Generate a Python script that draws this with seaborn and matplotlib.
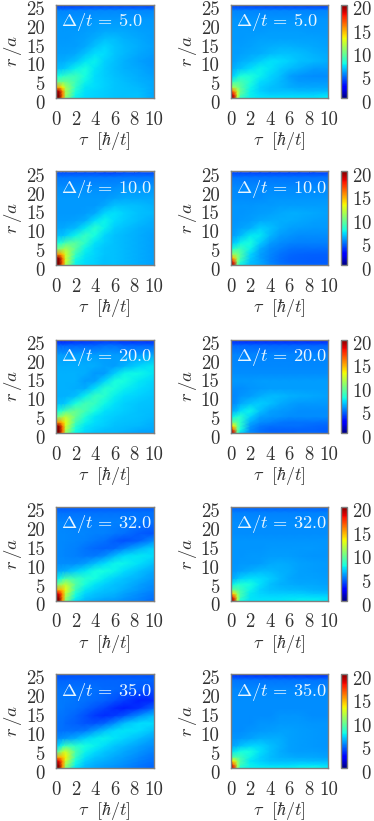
import matplotlib
matplotlib.use("Agg")
import matplotlib.pyplot as plt
from matplotlib.transforms import ScaledTranslation
import numpy as np
import pandas as pd
import seaborn as sns

tau_nodes = [0, .3, .7, 1, 2, 3, 4, 5, 6, 7, 8.5, 10]
r_nodes = [0, 1, 2, 3, 4.5, 6, 8, 10, 12, 14, 16, 18, 21, 23.5, 24.7]
x_ticks = [0, 2, 4, 6, 8, 10]
y_ticks = [0, 5, 10, 15, 20, 25]
cbar_ticks = [0, 5, 10, 15, 20]
deltas = ["5.0", "10.0", "20.0", "32.0", "35.0"]

z5_left = [
 [20,20,15,10,7.2,6.8,6.6,6.5,6.4,6.3,6.3,5.8],
 [20,20,15.5,11,7.4,6.8,6.7,6.5,6.4,6.3,6.3,5.8],
 [19.5,19,15,11,7.8,6.9,6.7,6.5,6.4,6.3,6.2,5.8],
 [14.5,14.5,13,11,8.2,7,6.8,6.6,6.4,6.3,6.1,5.8],
 [9,9.5,9.5,9.5,8.5,7.3,6.8,6.6,6.4,6.2,6,5.8],
 [7.5,7.5,8,8.2,8.5,7.5,6.8,6.5,6.3,6.1,5.9,5.7],
 [6.3,6.3,6.4,6.5,7.2,7.6,7,6.5,6.2,6,5.8,5.5],
 [5.9,5.9,5.9,6,6.3,7,7.2,6.6,6.3,6,5.7,5.4],
 [5.7,5.7,5.7,5.7,5.8,6.3,6.8,6.8,6.4,6.1,5.8,5.6],
 [5.6,5.6,5.6,5.6,5.6,5.8,6.3,6.7,6.4,6.1,5.9,5.7],
 [5.5,5.5,5.5,5.5,5.6,5.7,5.9,6.2,6.2,6,5.8,5.6],
 [5.5,5.5,5.5,5.5,5.5,5.6,5.7,5.8,5.8,5.8,5.7,5.6],
 [5.4,5.4,5.4,5.4,5.4,5.4,5.5,5.5,5.5,5.5,5.5,5.5],
 [5.1,5.1,5.1,5.1,5.1,5.1,5.2,5.2,5.2,5.2,5.2,5.2],
 [3.6,3.6,3.6,3.6,3.6,3.8,3.8,3.8,3.8,3.8,3.8,3.8],
]
z5_right = [
 [20,19,11,8,7.2,7,7,7,7,7,7,7.2],
 [20,18,12,9,7.2,6.8,6.6,6.6,6.6,6.6,6.6,6.8],
 [17,15,11.5,9.5,7.2,6.6,6.3,6.3,6.3,6.1,6.1,6.1],
 [11,11,10,9.2,7.4,6.6,6.3,6.1,5.9,5.8,5.8,5.8],
 [8,8.2,8.7,8.7,7.8,6.8,6.5,6.1,5.8,5.5,5.5,5.5],
 [6.5,6.7,7.2,7.7,7.7,7.2,6.7,6.3,5.7,5.4,5.3,5.3],
 [5.9,6,6.2,6.3,6.8,7.2,7,6.5,6.2,6,5.6,5.6],
 [5.7,5.7,5.8,5.9,6.1,6.5,6.9,6.8,6.6,6.3,6.1,5.9],
 [5.6,5.6,5.6,5.7,5.8,5.9,6.1,6.3,6.3,6.2,6,5.8],
 [5.6,5.6,5.6,5.6,5.7,5.8,5.9,6,6,5.9,5.8,5.7],
 [5.5,5.5,5.5,5.5,5.6,5.7,5.7,5.7,5.7,5.7,5.7,5.6],
 [5.5,5.5,5.5,5.5,5.5,5.5,5.6,5.6,5.6,5.6,5.5,5.5],
 [5.4,5.4,5.4,5.4,5.4,5.4,5.4,5.4,5.4,5.4,5.4,5.4],
 [5.1,5.1,5.1,5.1,5.1,5.1,5.1,5.1,5.1,5.1,5.1,5.1],
 [3.7,3.7,3.7,3.7,3.7,3.7,3.7,3.7,3.7,3.7,3.7,3.7],
]
z10_left = [
 [20,20,15.5,11,7.3,6.8,6.6,6.3,6.3,6.1,5.9,5.7],
 [20,20,16,12,7.3,6.8,6.6,6.3,6.3,6.1,5.9,5.7],
 [19.5,19.5,15.5,12,7.8,6.9,6.6,6.3,6.3,6.1,5.9,5.7],
 [15,15,14,12,8.3,7.1,6.7,6.4,6.3,6.1,5.9,5.7],
 [9.5,10,10.5,11,9.2,7.3,6.7,6.4,6.3,6.1,5.9,5.7],
 [7.5,7.5,8.2,8.8,9.2,8.1,6.9,6.5,6.3,6.1,5.9,5.7],
 [6.3,6.3,6.3,6.5,7.3,8.3,7.5,6.7,6.3,6.1,5.9,5.7],
 [5.8,5.8,5.8,5.9,6.1,7.1,8,7.2,6.5,6.3,6,5.8],
 [5.6,5.6,5.6,5.6,5.7,5.9,6.8,7.3,6.8,6.5,6.2,5.9],
 [5.5,5.5,5.5,5.5,5.5,5.6,5.8,6.7,6.9,6.6,6.3,6.1],
 [5.5,5.5,5.5,5.5,5.5,5.5,5.5,5.8,6.3,6.3,6.2,6],
 [5.5,5.5,5.5,5.5,5.5,5.5,5.5,5.5,5.7,5.8,5.8,5.8],
 [5.3,5.3,5.3,5.3,5.3,5.3,5.3,5.3,5.3,5.4,5.4,5.4],
 [4.9,4.9,4.9,4.9,4.9,4.9,4.9,4.9,4.9,4.9,4.9,4.9],
 [4,4,4,4,4,4,4,3.8,3.8,4,4,4],
]
z10_right = [
 [20,19,9.5,7.2,6.3,5.8,5.3,4.9,4.7,4.6,4.5,4.5],
 [20,17,10,8,6.3,5.8,5.1,4.7,4.5,4.4,4.3,4.3],
 [16,14,10.5,8.8,6.5,5.7,5.1,4.7,4.5,4.4,4.3,4.3],
 [10.5,10.5,10,9,6.7,5.7,5.2,4.8,4.6,4.5,4.4,4.4],
 [7.6,7.8,8.3,8.5,7.3,5.9,5.3,5,4.8,4.7,4.7,4.7],
 [6.3,6.5,6.8,7.3,7.6,6.5,5.6,5.3,5.1,5,5,5],
 [5.7,5.7,5.9,6.1,7.1,7.1,6.1,5.6,5.4,5.3,5.3,5.3],
 [5.5,5.5,5.6,5.7,5.9,6.5,6.3,5.9,5.7,5.6,5.5,5.5],
 [5.4,5.4,5.4,5.5,5.6,5.8,5.9,5.9,5.9,5.8,5.7,5.6],
 [5.4,5.4,5.4,5.4,5.5,5.6,5.7,5.8,5.9,5.9,5.8,5.7],
 [5.4,5.4,5.4,5.4,5.4,5.5,5.5,5.6,5.6,5.6,5.6,5.6],
 [5.3,5.3,5.3,5.3,5.3,5.3,5.4,5.4,5.4,5.4,5.4,5.4],
 [5.2,5.2,5.2,5.2,5.2,5.2,5.2,5.2,5.2,5.2,5.2,5.2],
 [4.8,4.8,4.8,4.8,4.8,4.8,4.8,4.8,4.8,4.8,4.8,4.8],
 [3.9,3.9,3.9,3.9,3.9,3.9,3.9,3.9,3.9,3.9,3.9,3.9],
]
z20_left = [
 [20,20,15.5,10.5,7.3,6.6,6.3,6.2,6.1,5.9,5.7,5.6],
 [20,20,16,11.5,7.5,6.8,6.5,6.3,6.2,6.1,5.9,5.8],
 [19.5,19.5,15.5,12,8,7,6.7,6.5,6.3,6.2,6.1,5.9],
 [15,15,14,12.5,8.7,7.3,6.8,6.6,6.4,6.3,6.2,6],
 [9.5,10,11,11.5,9.5,7.8,7,6.7,6.5,6.4,6.3,6.1],
 [7.3,7.5,8.2,8.8,9.5,8.6,7.5,6.9,6.7,6.5,6.3,6.2],
 [6.2,6.3,6.3,6.5,7.6,8.6,8.3,7.4,6.9,6.6,6.4,6.3],
 [6,6,6,6,6.2,7.2,8.3,8,7.2,6.8,6.6,6.4],
 [6,6,6,6,5.9,5.9,6.9,7.9,7.7,7.2,6.8,6.5],
 [6,6,6,6,6,5.6,5.7,6.7,7.6,7.6,7.1,6.7],
 [6,6,6,6,6,5.9,5.5,5.6,6.5,7.3,7.4,7],
 [5.9,5.9,5.9,5.9,5.9,5.9,5.9,5.7,5.6,6,6.7,7.1],
 [5.6,5.6,5.6,5.6,5.6,5.6,5.6,5.6,5.6,5.5,5.5,5.8],
 [4.5,4.5,4.5,4.5,4.5,4.5,4.5,4.7,4.7,4.5,4.5,4.5],
 [3,3,3,3,3.3,3.3,3.5,3.5,3.5,3.3,3.3,3.3],
]
z20_right = [
 [20,19,9,6.5,5.3,4.8,4.6,4.5,4.5,4.6,4.6,4.3],
 [20,16,9.5,7.5,5.3,4.7,4.5,4.5,4.5,4.5,4.5,4.3],
 [15,13,9.5,8,5.5,4.9,4.7,4.7,4.7,4.7,4.6,4.5],
 [9.5,9.5,9,8,5.9,5.3,5.1,4.9,4.8,4.8,4.8,4.7],
 [7.1,7.3,7.8,8,6.7,5.7,5.5,5.4,5.3,5.3,5.3,5.3],
 [5.9,6,6.3,6.8,7.3,6.3,5.7,5.5,5.4,5.3,5.3,5.3],
 [5.3,5.3,5.5,5.8,6.3,6.5,6.3,5.9,5.7,5.5,5.5,5.5],
 [5.2,5.2,5.3,5.4,5.6,5.9,6.1,6.1,6,5.9,5.8,5.7],
 [5.3,5.3,5.3,5.3,5.4,5.5,5.6,5.6,5.6,5.6,5.6,5.6],
 [5.5,5.5,5.5,5.5,5.5,5.6,5.6,5.6,5.6,5.6,5.6,5.6],
 [5.3,5.3,5.3,5.3,5.3,5.3,5.3,5.3,5.3,5.3,5.3,5.3],
 [5.2,5.2,5.2,5.2,5.2,5.2,5.2,5.2,5.2,5.2,5.2,5.2],
 [5.1,5.1,5.1,5.1,5.1,5.1,5.1,5.1,5.1,5.1,5.1,5.1],
 [4.5,4.5,4.5,4.5,4.5,4.5,4.5,4.5,4.5,4.5,4.5,4.5],
 [3.2,3.2,3.2,3.2,3.2,3.2,3.2,3.2,3.2,3.2,3.2,3.2],
]
z32_left = [
 [20,20,15,10,6.8,6.1,5.8,5.6,5.5,5.3,5,4.6],
 [20,19.5,15,11,7.3,6.4,6.1,5.9,5.8,5.5,5.2,4.8],
 [19,18,15,11.5,7.7,6.7,6.3,6.1,6,5.7,5.3,4.9],
 [15,14.5,14,12.5,8.5,7.1,6.6,6.3,6.2,5.9,5.5,5.1],
 [9,10,11,11.5,9,7.6,7,6.6,6.3,6.1,5.7,5.3],
 [7,7.3,8.2,8.8,8.5,7.9,7.5,7.1,6.6,6.3,6,5.5],
 [5.8,5.8,5.9,6,6.5,7.1,7.5,7.5,7.3,6.8,6.3,5.8],
 [5.3,5.3,5.3,5.3,5.3,5.6,6.2,6.8,7.3,7.3,6.9,6.3],
 [5.2,5.2,5.2,5.1,5,4.9,4.9,5.3,6.1,6.8,7.1,6.8],
 [5.2,5.2,5.2,5.1,5,4.8,4.6,4.5,4.6,5.1,6,6.7],
 [5.2,5.2,5.2,5.2,5.1,5,4.9,4.7,4.3,4.1,4.4,5.3],
 [5.2,5.2,5.2,5.2,5.1,5.1,5,5,4.9,4.7,4.3,4.2],
 [5.1,5.1,5.1,5.1,5,5,5,5,5,5,4.9,4.7],
 [4.7,4.7,4.7,4.7,4.7,4.7,4.7,4.7,4.7,4.7,4.7,4.7],
 [4.3,4.3,4.3,4.3,4.3,4.3,4.3,4.3,4.3,4.3,4.3,4.3],
]
z32_right = [
 [20,19,11,7.5,7,7,7,7,7.1,7.2,7.2,7],
 [20,17,11.5,8.5,7,6.8,6.8,6.8,6.9,6.9,6.9,6.8],
 [15,13.5,10.5,8.8,7.1,6.7,6.5,6.5,6.5,6.5,6.4,6.3],
 [9.5,9.5,9,8.5,7.3,6.6,6.3,6.2,6.1,6.1,6,5.9],
 [7,7.3,7.8,7.8,7.5,6.9,6.3,6,5.9,5.8,5.8,5.7],
 [5.9,6,6.3,6.6,6.9,6.8,6.5,6.1,5.8,5.7,5.7,5.6],
 [5.5,5.5,5.6,5.7,5.9,6.1,6.1,6,5.9,5.7,5.6,5.5],
 [5.4,5.4,5.4,5.5,5.5,5.6,5.8,5.9,5.8,5.7,5.6,5.5],
 [5.4,5.4,5.4,5.4,5.5,5.5,5.6,5.6,5.6,5.5,5.4,5.4],
 [5.4,5.4,5.4,5.4,5.4,5.4,5.5,5.5,5.5,5.5,5.5,5.4],
 [5.4,5.4,5.4,5.4,5.4,5.4,5.4,5.4,5.4,5.4,5.4,5.4],
 [5.3,5.3,5.3,5.3,5.3,5.3,5.3,5.3,5.3,5.3,5.3,5.3],
 [5.3,5.3,5.3,5.3,5.3,5.3,5.3,5.3,5.3,5.3,5.3,5.3],
 [5,5,5,5,5,5,5,5,5,5,5,5],
 [4.5,4.5,4.5,4.5,4.5,4.5,4.5,4.5,4.5,4.5,4.5,4.5],
]
z35_left = [
 [20,20,15,10,6.8,6.1,5.8,5.5,5.3,5.1,4.8,4.5],
 [20,19.5,15,11,7.3,6.3,5.9,5.7,5.5,5.3,4.9,4.6],
 [19,18,15,12,7.6,6.6,6.1,5.9,5.7,5.4,5,4.7],
 [15,14.5,14,13,8.3,6.9,6.4,6.1,5.8,5.6,5.2,4.8],
 [8.5,9.5,11.5,12,8.8,7.3,6.8,6.4,6.1,5.8,5.4,5],
 [6.5,6.8,7.8,8.5,8,7.5,7.2,6.8,6.4,6.1,5.7,5.3],
 [5.3,5.3,5.4,5.5,5.9,6.6,7.1,7.2,7,6.7,6.2,5.7],
 [4.7,4.7,4.7,4.7,4.7,4.9,5.6,6.3,6.8,7,6.8,6.3],
 [4.7,4.7,4.7,4.6,4.4,4.2,4.1,4.5,5.3,6.2,6.8,6.8],
 [4.8,4.8,4.8,4.7,4.5,4.1,3.6,3.4,3.6,4.2,5.3,6.2],
 [4.9,4.9,4.9,4.8,4.7,4.5,4.2,3.8,3.3,3.1,3.5,4.5],
 [4.9,4.9,4.9,4.9,4.8,4.7,4.6,4.4,4.1,3.7,3.2,3.3],
 [4.8,4.8,4.8,4.8,4.8,4.7,4.7,4.6,4.6,4.5,4.3,4.1],
 [4.5,4.5,4.5,4.5,4.5,4.5,4.5,4.5,4.5,4.5,4.5,4.5],
 [4.1,4.1,4.1,4.1,4.1,4.1,4.1,4.1,4.1,4.1,4.1,4.1],
]
z35_right = [
 [20,18,10.5,7.5,7.2,7.2,7.2,7.2,7.2,7.4,7.5,7.2],
 [19,16,11,8.5,7.2,6.9,6.7,6.7,6.7,6.8,6.8,6.7],
 [14,13,10.5,8.8,7,6.6,6.3,6.2,6.2,6.2,6.1,6.1],
 [9,9,8.8,8.5,7.3,6.6,6.2,6,5.9,5.8,5.8,5.7],
 [6.8,7.1,7.3,7.5,7.5,6.9,6.3,5.9,5.7,5.6,5.6,5.5],
 [5.8,5.8,6,6.3,6.7,6.7,6.3,6,5.7,5.6,5.5,5.4],
 [5.4,5.4,5.4,5.5,5.7,5.9,5.9,5.9,5.7,5.6,5.5,5.4],
 [5.3,5.3,5.3,5.3,5.4,5.5,5.6,5.7,5.7,5.6,5.5,5.4],
 [5.3,5.3,5.3,5.3,5.3,5.4,5.4,5.5,5.5,5.5,5.4,5.4],
 [5.3,5.3,5.3,5.3,5.3,5.3,5.3,5.4,5.4,5.4,5.3,5.3],
 [5.3,5.3,5.3,5.3,5.3,5.3,5.3,5.3,5.3,5.3,5.3,5.3],
 [5.3,5.3,5.3,5.3,5.3,5.3,5.3,5.3,5.3,5.3,5.3,5.3],
 [5.2,5.2,5.2,5.2,5.2,5.2,5.2,5.2,5.2,5.2,5.2,5.2],
 [4.8,4.8,4.8,4.8,4.8,4.8,4.8,4.8,4.8,4.8,4.8,4.8],
 [3.5,3.5,3.5,3.5,3.5,3.5,3.5,3.5,3.5,3.5,3.5,3.5],
]
left_panels = [z5_left, z10_left, z20_left, z32_left, z35_left]
right_panels = [z5_right, z10_right, z20_right, z32_right, z35_right]

W, H = 374, 821
sns.set_theme(style="white")
plt.rcParams["font.family"] = ["cmr10", "DejaVu Sans"]
plt.rcParams["mathtext.fontset"] = "cm"
plt.rcParams["axes.formatter.use_mathtext"] = True
plt.rcParams["axes.unicode_minus"] = False

fig = plt.figure(figsize=(W / 100, H / 100), dpi=100, facecolor="white")
tops = [4.7, 171.5, 339.5, 506.7, 674.0]
bottoms = [98.3, 265.3, 433.3, 601.0, 768.3]
SPINE = "#7f7f7f"
TEXT = "#333333"
FS = 13.5
label_shift = ScaledTranslation(0, -3.5 / 100, fig.dpi_scale_trans)


def rect(x0, x1, ytop, ybot):
    return [x0 / W, 1 - ybot / H, (x1 - x0) / W, (ybot - ytop) / H]


def shift_labels(axis):
    for t in axis.get_ticklabels():
        t.set_transform(t.get_transform() + label_shift)


def draw(ax, z, label, cax=None):
    df = pd.DataFrame(z, index=r_nodes, columns=tau_nodes)
    sns.heatmap(df, ax=ax, cmap="jet", vmin=0, vmax=20, cbar=cax is not None,
                cbar_ax=cax, xticklabels=False, yticklabels=False,
                cbar_kws={"ticks": cbar_ticks} if cax is not None else None)
    ax.collections[0].set_visible(False)
    ax.pcolormesh(tau_nodes, r_nodes, df.values, shading="gouraud",
                  cmap="jet", vmin=0, vmax=20)
    ax.set_xlim(0, 10)
    ax.set_ylim(0, 25)
    ax.set_xticks(x_ticks, [str(v) for v in x_ticks])
    ax.set_yticks(y_ticks, [str(v) for v in y_ticks])
    ax.tick_params(axis="x", which="both", direction="in", length=2, width=0.6,
                   color="#404040", top=True, bottom=True, pad=9,
                   labelsize=FS, labelcolor=TEXT, labelrotation=0)
    ax.tick_params(axis="y", which="both", direction="in", length=2, width=0.6,
                   color="#404040", left=True, right=True, pad=8,
                   labelsize=FS, labelcolor=TEXT, labelrotation=0)
    shift_labels(ax.yaxis)
    for s in ax.spines.values():
        s.set_visible(True)
        s.set_color(SPINE)
        s.set_linewidth(1.0)
    ax.set_xlabel(r"$\tau\ \ [\hbar/t]$", fontsize=13, color=TEXT)
    ax.set_ylabel(r"$r\,/a$", fontsize=FS, color=TEXT)
    ax.xaxis.set_label_coords(0.5, -0.455, transform=ax.transAxes)
    ax.yaxis.set_label_coords(-0.44, 0.5, transform=ax.transAxes)
    ax.xaxis.label.set_va("center")
    ax.yaxis.label.set_va("center")
    ax.text(0.5, 20.3, rf"$\Delta/t\,=\,{label}$", color="#e8f6ff", fontsize=13.2,
            ha="left", va="center")


for i, label in enumerate(deltas):
    axl = fig.add_axes(rect(56, 153.5, tops[i], bottoms[i]))
    axr = fig.add_axes(rect(230.7, 328.3, tops[i], bottoms[i]))
    cax = fig.add_axes(rect(340.7, 346.7, tops[i], bottoms[i]))
    draw(axl, left_panels[i], label)
    draw(axr, right_panels[i], label, cax=cax)
    cb = axr.collections[0].colorbar
    cb.outline.set_visible(True)
    cb.outline.set_edgecolor(SPINE)
    cb.outline.set_linewidth(1.0)
    cax.tick_params(length=0, pad=18, labelsize=FS, labelcolor=TEXT)
    for t in cax.get_yticklabels():
        t.set_ha("right")
    shift_labels(cax.yaxis)

fig.savefig("out.png", dpi=100)
